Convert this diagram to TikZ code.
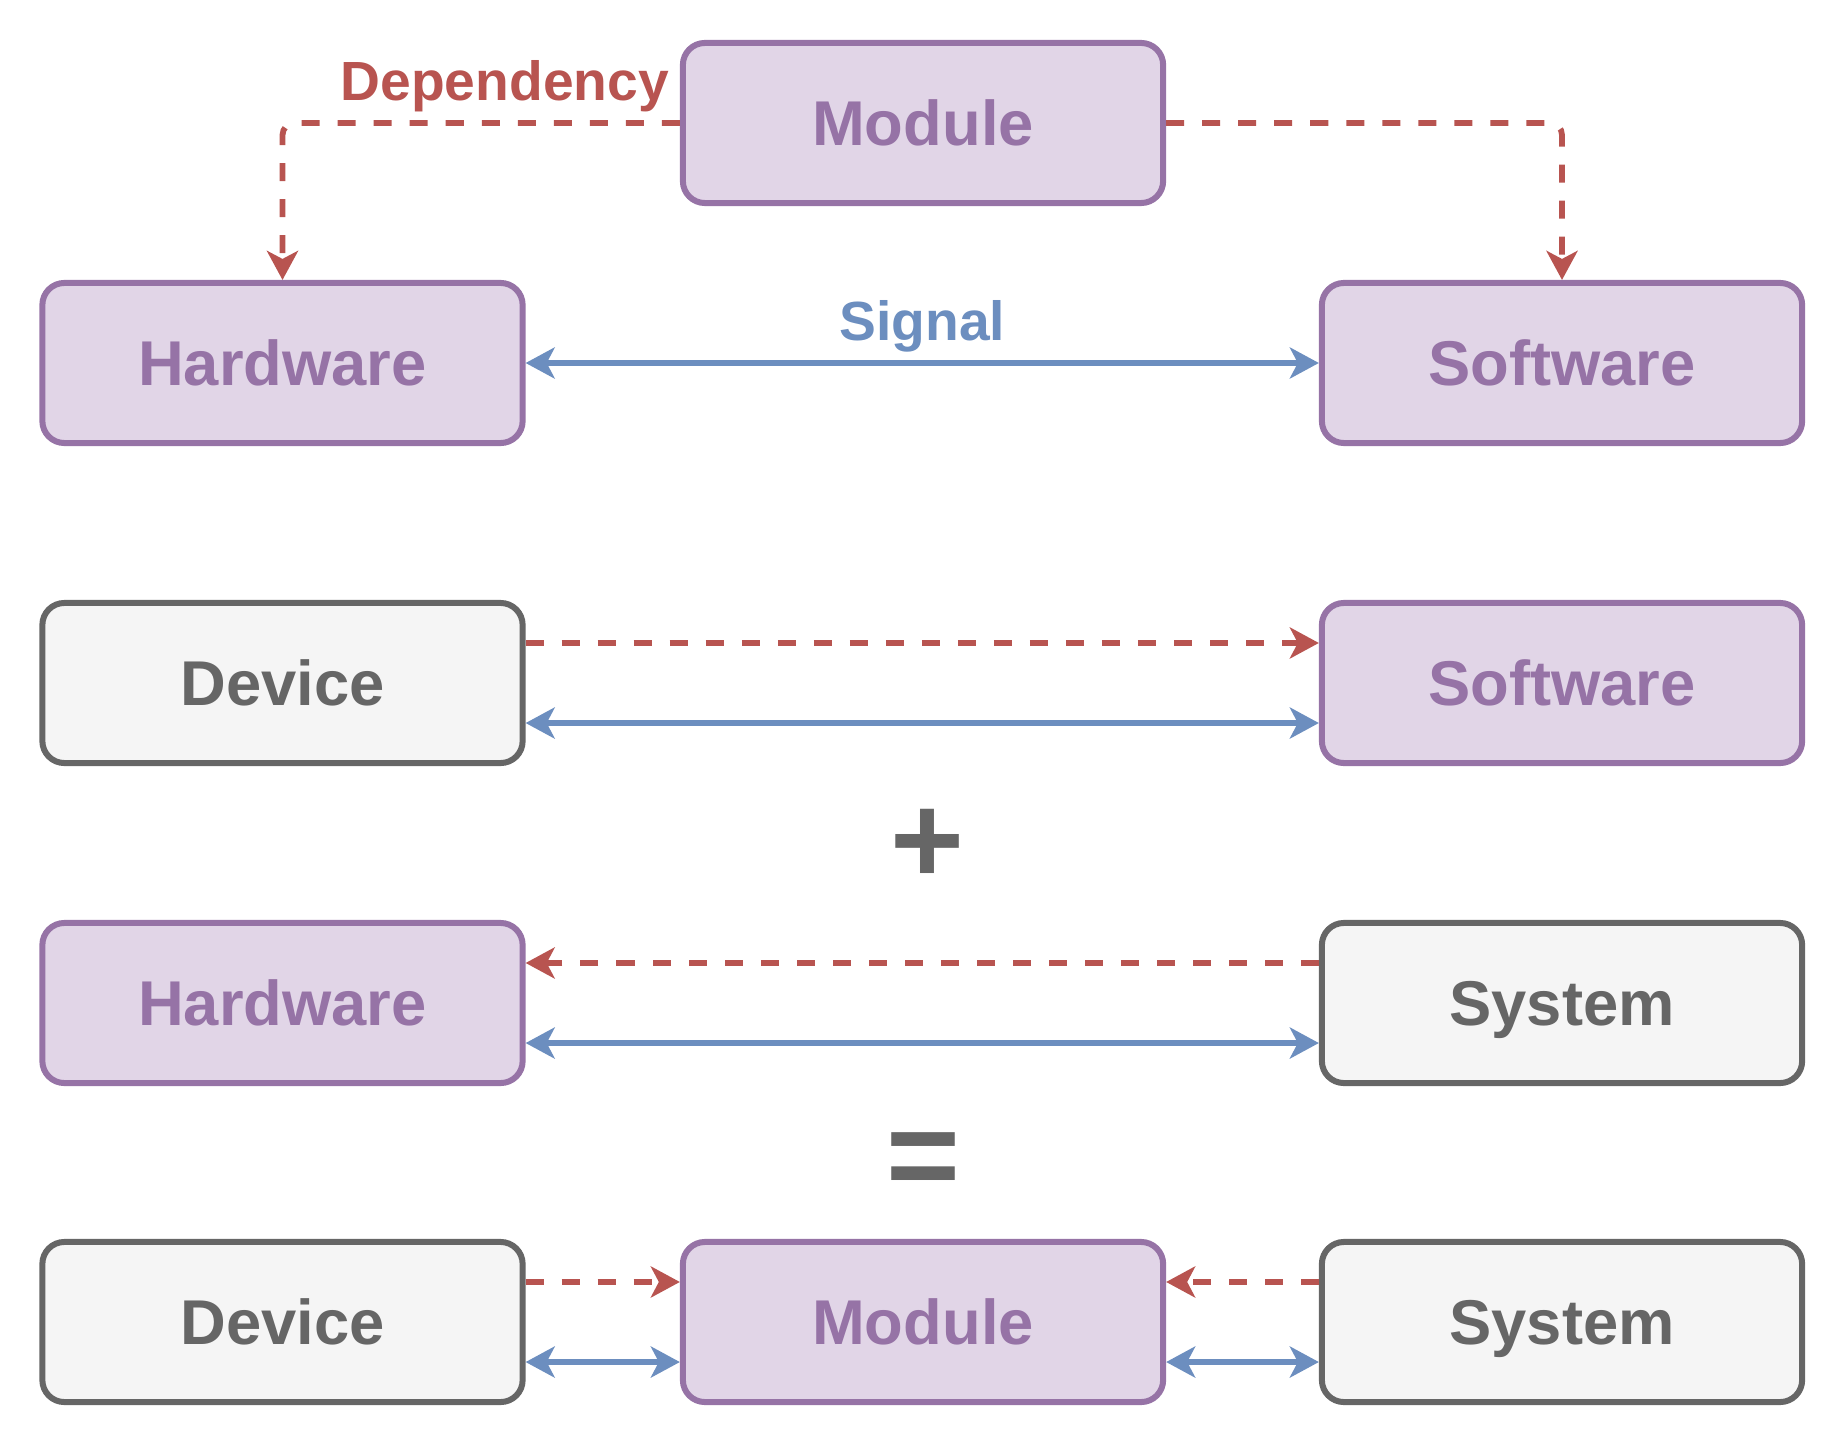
\documentclass[tikz,border=0pt]{standalone}
\usepackage{fontspec}
\setmainfont{Liberation Sans}
\usetikzlibrary{arrows.meta}
\definecolor{modfill}{HTML}{E1D5E7}
\definecolor{modline}{HTML}{9673A6}
\definecolor{plainfill}{HTML}{F5F5F5}
\definecolor{plainline}{HTML}{666666}
\definecolor{depline}{HTML}{B85450}
\definecolor{sigline}{HTML}{6C8EBF}

\begin{document}
\begin{tikzpicture}[x=0.01cm, y=-0.01cm,
	box/.style={rectangle, rounded corners=0.22cm, line width=0.06cm, minimum width=4.8cm, minimum height=1.6cm, text depth=0pt, font=\fontsize{18}{22}\selectfont\bfseries},
	purplebox/.style={box, draw=modline, fill=modfill, text=modline},
	graybox/.style={box, draw=plainline, fill=plainfill, text=plainline},
	dep/.style={draw=depline, line width=0.058cm, dash pattern=on 0.18cm off 0.18cm, -{Stealth[length=0.29cm, width=0.31cm, inset=0.08cm]}},
	sig/.style={draw=sigline, line width=0.058cm, {Stealth[length=0.29cm, width=0.31cm, inset=0.08cm]}-{Stealth[length=0.29cm, width=0.31cm, inset=0.08cm]}},
	lbl/.style={font=\fontsize{15.7}{19}\selectfont\bfseries, inner sep=0.08cm},
	sym/.style={font=\fontsize{36}{40}\selectfont\bfseries, text=plainline, inner sep=0pt}]
	
	\useasboundingbox (0,0) rectangle (1846,1446);
	
	\node[purplebox] (module) at (923, 123) {Module};
	\node[purplebox] (hw1) at (282.5, 363) {Hardware};
	\node[purplebox] (sw1) at (1562, 363) {Software};
	
	\node[graybox] (dev2) at (282.5, 683) {Device};
	\node[purplebox] (sw2) at (1562, 683) {Software};
	\node[sym] (plus) at (927, 846) {+};
	\node[purplebox] (hw3) at (282.5, 1003) {Hardware};
	\node[graybox] (sys3) at (1562, 1003) {System};
	\node[sym] (equals) at (923, 1166) {=};
	
	\node[graybox] (dev4) at (282.5, 1322) {Device};
	\node[purplebox] (mod4) at (923, 1322) {Module};
	\node[graybox] (sys4) at (1562, 1322) {System};
	
	\draw[dep, rounded corners=0.12cm] (module.west) -| (hw1.north)
		node[lbl, text=depline, pos=0, above left] {Dependency};
	\draw[dep, rounded corners=0.12cm] (module.east) -| (sw1.north);
	\draw[sig] (hw1.east) -- (sw1.west)
		node[lbl, text=sigline, midway, above] {Signal};
	
	\draw[dep] ([yshift=0.4cm]dev2.east) -- ([yshift=0.4cm]sw2.west);
	\draw[sig] ([yshift=-0.4cm]dev2.east) -- ([yshift=-0.4cm]sw2.west);
	
	\draw[dep] ([yshift=0.4cm]sys3.west) -- ([yshift=0.4cm]hw3.east);
	\draw[sig] ([yshift=-0.4cm]hw3.east) -- ([yshift=-0.4cm]sys3.west);
	
	\draw[dep] ([yshift=0.4cm]dev4.east) -- ([yshift=0.4cm]mod4.west);
	\draw[sig] ([yshift=-0.4cm]dev4.east) -- ([yshift=-0.4cm]mod4.west);
	\draw[dep] ([yshift=0.4cm]sys4.west) -- ([yshift=0.4cm]mod4.east);
	\draw[sig] ([yshift=-0.4cm]mod4.east) -- ([yshift=-0.4cm]sys4.west);
	
\end{tikzpicture}
\end{document}
